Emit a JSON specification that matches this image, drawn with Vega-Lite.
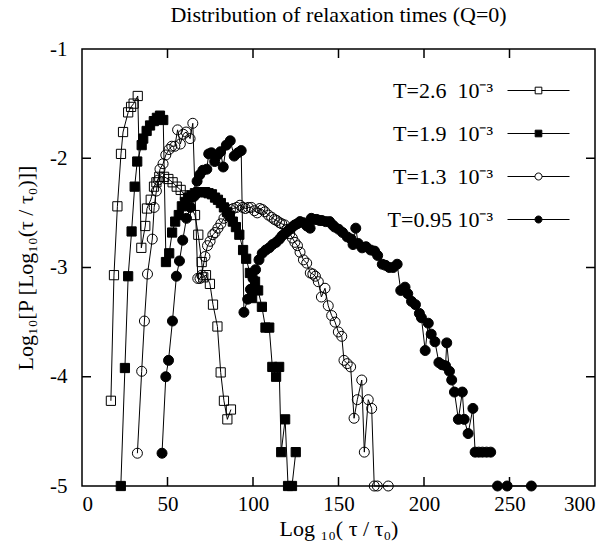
{
  "$schema": "https://vega.github.io/schema/vega-lite/v6.json",
  "width": 513,
  "height": 437,
  "autosize": {"type": "none"},
  "padding": {"left": 82, "top": 49, "right": 18, "bottom": 66},
  "background": "white",
  "config": {
    "font": "Liberation Serif",
    "view": {"stroke": "black", "strokeWidth": 1.5},
    "axis": {
      "domain": false, "grid": false, "ticks": false,
      "labelFont": "Liberation Serif", "titleFont": "Liberation Serif",
      "labelFontSize": 21, "titleFontSize": 22, "titleFontWeight": "normal",
      "labelColor": "black", "titleColor": "black"
    },
    "legend": {
      "orient": "none", "legendX": 425, "legendY": 10, "padding": 0,
      "labelAlign": "right",
      "labelFont": "Liberation Serif", "labelFontSize": 22, "labelColor": "black",
      "symbolStrokeWidth": 1, "symbolStrokeColor": "black", "rowPadding": 0
    }
  },
  "title": {
    "text": "Distribution of relaxation times (Q=0)",
    "font": "Liberation Serif", "fontSize": 22, "fontWeight": "normal",
    "color": "black", "anchor": "middle", "offset": 11
  },
  "data": {"values": [
    {"s":"a","x":16.9,"y":-4.22,"p":1},{"s":"a","x":18.7,"y":-3.07,"p":1},{"s":"a","x":20.7,"y":-2.44,"p":1},{"s":"a","x":22.8,"y":-1.96,"p":1},{"s":"a","x":24.0,"y":-1.76,"p":1},{"s":"a","x":27.0,"y":-1.58,"p":1},{"s":"a","x":28.7,"y":-1.53,"p":1},{"s":"a","x":30.2,"y":-1.50,"p":1},{"s":"a","x":32.6,"y":-1.43,"p":1},{"s":"a","x":34.7,"y":-2.82,"p":1},{"s":"a","x":37.0,"y":-2.62,"p":1},{"s":"a","x":38.0,"y":-2.46,"p":1},{"s":"a","x":40.2,"y":-2.38,"p":1},{"s":"a","x":42.1,"y":-2.26,"p":1},{"s":"a","x":43.5,"y":-2.22,"p":1},{"s":"a","x":45.2,"y":-2.17,"p":1},{"s":"a","x":48.0,"y":-2.17,"p":1},{"s":"a","x":50.5,"y":-2.19,"p":1},{"s":"a","x":53.0,"y":-2.22,"p":1},{"s":"a","x":55.4,"y":-2.26,"p":1},{"s":"a","x":57.7,"y":-2.29,"p":1},{"s":"a","x":60.2,"y":-2.34,"p":1},{"s":"a","x":62.7,"y":-2.42,"p":1},{"s":"a","x":66.1,"y":-2.52,"p":1},{"s":"a","x":68.0,"y":-2.70,"p":1},{"s":"a","x":70.0,"y":-2.95,"p":1},{"s":"a","x":70.9,"y":-3.09,"p":1},{"s":"a","x":72.5,"y":-3.07,"p":1},{"s":"a","x":74.8,"y":-3.15,"p":1},{"s":"a","x":76.6,"y":-3.34,"p":1},{"s":"a","x":79.2,"y":-3.54,"p":1},{"s":"a","x":81.1,"y":-3.96,"p":1},{"s":"a","x":83.0,"y":-4.22,"p":1},{"s":"a","x":85.0,"y":-4.39,"p":1},{"s":"a","x":87.1,"y":-4.30,"p":1},
    {"s":"b","x":22.7,"y":-5,"p":1},{"s":"b","x":25.1,"y":-3.92,"p":1},{"s":"b","x":27.0,"y":-3.08,"p":1},{"s":"b","x":29.0,"y":-2.67,"p":1},{"s":"b","x":30.8,"y":-2.26,"p":1},{"s":"b","x":32.3,"y":-2.03,"p":1},{"s":"b","x":34.9,"y":-1.88,"p":1},{"s":"b","x":35.8,"y":-1.82,"p":1},{"s":"b","x":37.8,"y":-1.75,"p":1},{"s":"b","x":39.8,"y":-1.70,"p":1},{"s":"b","x":42.0,"y":-1.66,"p":1},{"s":"b","x":43.8,"y":-1.63,"p":1},{"s":"b","x":45.6,"y":-1.61,"p":1},{"s":"b","x":47.5,"y":-1.65,"p":1},{"s":"b","x":49.1,"y":-2.95,"p":1},{"s":"b","x":51.0,"y":-2.87,"p":1},{"s":"b","x":52.7,"y":-2.68,"p":1},{"s":"b","x":54.5,"y":-2.58,"p":1},{"s":"b","x":56.6,"y":-2.52,"p":1},{"s":"b","x":58.4,"y":-2.44,"p":1},{"s":"b","x":60.2,"y":-2.40,"p":1},{"s":"b","x":62.0,"y":-2.36,"p":1},{"s":"b","x":64.0,"y":-2.34,"p":1},{"s":"b","x":66.0,"y":-2.32,"p":1},{"s":"b","x":68.0,"y":-2.31,"p":1},{"s":"b","x":70.0,"y":-2.31,"p":1},{"s":"b","x":72.0,"y":-2.31,"p":1},{"s":"b","x":74.0,"y":-2.32,"p":1},{"s":"b","x":76.0,"y":-2.33,"p":1},{"s":"b","x":77.8,"y":-2.36,"p":1},{"s":"b","x":79.5,"y":-2.38,"p":1},{"s":"b","x":81.2,"y":-2.41,"p":1},{"s":"b","x":83.0,"y":-2.45,"p":1},{"s":"b","x":84.8,"y":-2.49,"p":1},{"s":"b","x":86.5,"y":-2.53,"p":1},{"s":"b","x":88.2,"y":-2.58,"p":1},{"s":"b","x":90.0,"y":-2.63,"p":1},{"s":"b","x":92.0,"y":-2.70,"p":1},{"s":"b","x":94.2,"y":-2.84,"p":1},{"s":"b","x":96.0,"y":-2.92,"p":1},{"s":"b","x":98.2,"y":-3.05,"p":1},{"s":"b","x":99.5,"y":-3.28,"p":1},{"s":"b","x":101.2,"y":-3.13,"p":1},{"s":"b","x":103.0,"y":-3.21,"p":1},{"s":"b","x":105.2,"y":-3.36,"p":1},{"s":"b","x":107.3,"y":-3.55,"p":1},{"s":"b","x":109.5,"y":-3.55,"p":1},{"s":"b","x":111.3,"y":-3.91,"p":1},{"s":"b","x":113.5,"y":-4.00,"p":1},{"s":"b","x":115.3,"y":-3.91,"p":1},{"s":"b","x":116.5,"y":-4.69,"p":1},{"s":"b","x":118.8,"y":-4.39,"p":1},{"s":"b","x":120.5,"y":-5,"p":1},{"s":"b","x":122.8,"y":-5,"p":1},{"s":"b","x":125.0,"y":-4.69,"p":1},
    {"s":"c","x":32.4,"y":-4.70,"p":1},{"s":"c","x":34.9,"y":-3.95,"p":1},{"s":"c","x":36.5,"y":-3.49,"p":1},{"s":"c","x":38.3,"y":-3.06,"p":1},{"s":"c","x":41.1,"y":-2.74,"p":1},{"s":"c","x":42.2,"y":-2.45,"p":1},{"s":"c","x":43.5,"y":-2.30,"p":1},{"s":"c","x":44.5,"y":-2.20,"p":1},{"s":"c","x":45.6,"y":-2.10,"p":1},{"s":"c","x":47.4,"y":-2.05,"p":1},{"s":"c","x":49.0,"y":-1.97,"p":1},{"s":"c","x":50.9,"y":-1.92,"p":1},{"s":"c","x":52.5,"y":-1.89,"p":1},{"s":"c","x":54.3,"y":-1.89,"p":1},{"s":"c","x":55.9,"y":-1.74,"p":1},{"s":"c","x":57.5,"y":-1.87,"p":1},{"s":"c","x":59.2,"y":-1.78,"p":1},{"s":"c","x":60.9,"y":-1.76,"p":1},{"s":"c","x":63.2,"y":-1.82,"p":1},{"s":"c","x":64.8,"y":-1.68,"p":1},{"s":"c","x":67.7,"y":-3.10,"p":1},{"s":"c","x":69.0,"y":-3.10,"p":1},{"s":"c","x":70.0,"y":-3.07,"p":1},{"s":"c","x":71.9,"y":-2.90,"p":1},{"s":"c","x":73.4,"y":-2.80,"p":1},{"s":"c","x":74.9,"y":-2.76,"p":1},{"s":"c","x":76.5,"y":-2.70,"p":1},{"s":"c","x":77.8,"y":-2.68,"p":1},{"s":"c","x":79.5,"y":-2.64,"p":1},{"s":"c","x":81.2,"y":-2.60,"p":1},{"s":"c","x":83.0,"y":-2.55,"p":1},{"s":"c","x":85.0,"y":-2.51,"p":1},{"s":"c","x":86.8,"y":-2.47,"p":1},{"s":"c","x":88.5,"y":-2.46,"p":1},{"s":"c","x":90.5,"y":-2.45,"p":1},{"s":"c","x":92.4,"y":-2.43,"p":1},{"s":"c","x":94.0,"y":-2.45,"p":1},{"s":"c","x":95.5,"y":-2.46,"p":1},{"s":"c","x":97.2,"y":-2.45,"p":1},{"s":"c","x":99.0,"y":-2.45,"p":1},{"s":"c","x":100.8,"y":-2.48,"p":1},{"s":"c","x":102.5,"y":-2.50,"p":1},{"s":"c","x":104.0,"y":-2.46,"p":1},{"s":"c","x":105.5,"y":-2.47,"p":1},{"s":"c","x":107.0,"y":-2.49,"p":1},{"s":"c","x":109.0,"y":-2.52,"p":1},{"s":"c","x":110.9,"y":-2.54,"p":1},{"s":"c","x":112.5,"y":-2.56,"p":1},{"s":"c","x":113.9,"y":-2.57,"p":1},{"s":"c","x":115.5,"y":-2.59,"p":1},{"s":"c","x":116.8,"y":-2.60,"p":1},{"s":"c","x":118.5,"y":-2.61,"p":1},{"s":"c","x":120.0,"y":-2.65,"p":1},{"s":"c","x":121.5,"y":-2.69,"p":1},{"s":"c","x":123.0,"y":-2.73,"p":1},{"s":"c","x":124.5,"y":-2.77,"p":1},{"s":"c","x":126.0,"y":-2.80,"p":1},{"s":"c","x":127.5,"y":-2.86,"p":1},{"s":"c","x":129.5,"y":-2.93,"p":1},{"s":"c","x":131.4,"y":-2.96,"p":1},{"s":"c","x":133.5,"y":-3.05,"p":1},{"s":"c","x":135.0,"y":-3.06,"p":1},{"s":"c","x":136.5,"y":-3.08,"p":1},{"s":"c","x":138.2,"y":-3.13,"p":1},{"s":"c","x":140.0,"y":-3.27,"p":1},{"s":"c","x":142.1,"y":-3.19,"p":1},{"s":"c","x":144.0,"y":-3.35,"p":1},{"s":"c","x":146.0,"y":-3.44,"p":1},{"s":"c","x":148.0,"y":-3.50,"p":1},{"s":"c","x":149.9,"y":-3.59,"p":1},{"s":"c","x":151.9,"y":-3.63,"p":1},{"s":"c","x":153.2,"y":-3.85,"p":1},{"s":"c","x":155.1,"y":-3.88,"p":1},{"s":"c","x":157.1,"y":-3.91,"p":1},{"s":"c","x":159.1,"y":-4.38,"p":1},{"s":"c","x":161.0,"y":-4.21,"p":1},{"s":"c","x":163.6,"y":-4.03,"p":1},{"s":"c","x":165.1,"y":-4.69,"p":1},{"s":"c","x":167.4,"y":-4.21,"p":1},{"s":"c","x":169.4,"y":-4.29,"p":1},{"s":"c","x":170.9,"y":-5,"p":1},{"s":"c","x":172.7,"y":-5,"p":1},{"s":"c","x":179.1,"y":-5,"p":1},
    {"s":"d","x":46.8,"y":-4.70,"p":1},{"s":"d","x":49.0,"y":-4.00,"p":1},{"s":"d","x":50.6,"y":-3.85,"p":1},{"s":"d","x":52.9,"y":-3.49,"p":1},{"s":"d","x":55.2,"y":-3.08,"p":1},{"s":"d","x":57.0,"y":-2.94,"p":1},{"s":"d","x":58.9,"y":-2.75,"p":1},{"s":"d","x":61.1,"y":-2.55,"p":1},{"s":"d","x":63.4,"y":-2.45,"p":1},{"s":"d","x":65.5,"y":-2.35,"p":1},{"s":"d","x":67.3,"y":-2.21,"p":1},{"s":"d","x":68.9,"y":-2.15,"p":1},{"s":"d","x":70.7,"y":-2.11,"p":1},{"s":"d","x":73.0,"y":-2.10,"p":1},{"s":"d","x":74.1,"y":-1.96,"p":1},{"s":"d","x":75.7,"y":-1.95,"p":1},{"s":"d","x":77.6,"y":-2.03,"p":1},{"s":"d","x":79.3,"y":-1.97,"p":1},{"s":"d","x":81.0,"y":-1.94,"p":1},{"s":"d","x":82.6,"y":-2.08,"p":1},{"s":"d","x":84.4,"y":-1.88,"p":1},{"s":"d","x":86.7,"y":-1.84,"p":1},{"s":"d","x":89.0,"y":-1.98,"p":1},{"s":"d","x":91.2,"y":-1.95,"p":1},{"s":"d","x":93.1,"y":-1.93,"p":1},{"s":"d","x":94.7,"y":-3.41,"p":1},{"s":"d","x":96.9,"y":-3.29,"p":1},{"s":"d","x":98.5,"y":-3.20,"p":1},{"s":"d","x":100.0,"y":-3.10,"p":1},{"s":"d","x":101.5,"y":-3.02,"p":1},{"s":"d","x":103.5,"y":-2.93,"p":1},{"s":"d","x":105.4,"y":-2.87,"p":1},{"s":"d","x":107.5,"y":-2.84,"p":1},{"s":"d","x":109.5,"y":-2.82,"p":1},{"s":"d","x":111.5,"y":-2.79,"p":1},{"s":"d","x":113.5,"y":-2.77,"p":1},{"s":"d","x":115.5,"y":-2.74,"p":1},{"s":"d","x":117.0,"y":-2.71,"p":1},{"s":"d","x":118.6,"y":-2.69,"p":1},{"s":"d","x":120.0,"y":-2.67,"p":1},{"s":"d","x":121.4,"y":-2.65,"p":1},{"s":"d","x":123.0,"y":-2.63,"p":1},{"s":"d","x":124.5,"y":-2.61,"p":1},{"s":"d","x":125.9,"y":-2.60,"p":1},{"s":"d","x":127.5,"y":-2.58,"p":1},{"s":"d","x":129.5,"y":-2.59,"p":1},{"s":"d","x":131.5,"y":-2.62,"p":1},{"s":"d","x":133.4,"y":-2.64,"p":1},{"s":"d","x":134.1,"y":-2.55,"p":1},{"s":"d","x":135.8,"y":-2.56,"p":1},{"s":"d","x":137.3,"y":-2.56,"p":1},{"s":"d","x":139.0,"y":-2.57,"p":1},{"s":"d","x":140.3,"y":-2.57,"p":1},{"s":"d","x":142.5,"y":-2.58,"p":1},{"s":"d","x":144.8,"y":-2.58,"p":1},{"s":"d","x":146.5,"y":-2.61,"p":1},{"s":"d","x":147.8,"y":-2.63,"p":1},{"s":"d","x":150.1,"y":-2.65,"p":1},{"s":"d","x":152.4,"y":-2.68,"p":1},{"s":"d","x":155.1,"y":-2.72,"p":1},{"s":"d","x":157.4,"y":-2.74,"p":1},{"s":"d","x":158.5,"y":-2.79,"p":1},{"s":"d","x":160.1,"y":-2.64,"p":1},{"s":"d","x":161.5,"y":-2.78,"p":1},{"s":"d","x":163.8,"y":-2.82,"p":1},{"s":"d","x":166.1,"y":-2.81,"p":1},{"s":"d","x":168.8,"y":-2.84,"p":1},{"s":"d","x":171.1,"y":-2.85,"p":1},{"s":"d","x":172.9,"y":-2.89,"p":1},{"s":"d","x":175.6,"y":-2.97,"p":1},{"s":"d","x":177.5,"y":-2.98,"p":1},{"s":"d","x":179.7,"y":-3.00,"p":1},{"s":"d","x":182.0,"y":-3.00,"p":1},{"s":"d","x":184.3,"y":-2.97,"p":1},{"s":"d","x":186.4,"y":-3.21,"p":1},{"s":"d","x":188.9,"y":-3.18,"p":1},{"s":"d","x":190.5,"y":-3.24,"p":1},{"s":"d","x":192.7,"y":-3.31,"p":1},{"s":"d","x":195.0,"y":-3.34,"p":1},{"s":"d","x":197.3,"y":-3.42,"p":1},{"s":"d","x":198.5,"y":-3.46,"p":1},{"s":"d","x":200.7,"y":-3.76,"p":1},{"s":"d","x":202.5,"y":-3.51,"p":1},{"s":"d","x":204.2,"y":-3.61,"p":1},{"s":"d","x":206.4,"y":-3.68,"p":1},{"s":"d","x":208.7,"y":-3.87,"p":1},{"s":"d","x":210.5,"y":-3.89,"p":1},{"s":"d","x":212.6,"y":-3.90,"p":1},{"s":"d","x":213.3,"y":-3.69,"p":1},{"s":"d","x":214.9,"y":-3.95,"p":1},{"s":"d","x":216.2,"y":-4.03,"p":1},{"s":"d","x":217.8,"y":-4.14,"p":1},{"s":"d","x":220.1,"y":-4.39,"p":1},{"s":"d","x":222.4,"y":-4.14,"p":1},{"s":"d","x":223.5,"y":-4.39,"p":1},{"s":"d","x":225.8,"y":-4.52,"p":1},{"s":"d","x":228.6,"y":-4.29,"p":1},{"s":"d","x":229.9,"y":-4.69,"p":1},{"s":"d","x":232.0,"y":-4.69,"p":1},{"s":"d","x":234.2,"y":-4.69,"p":1},{"s":"d","x":236.6,"y":-4.69,"p":1},{"s":"d","x":239.0,"y":-4.69,"p":1},{"s":"d","x":243.0,"y":-5,"p":2},{"s":"d","x":248.6,"y":-5,"p":2},{"s":"d","x":262.8,"y":-5,"p":2}
  ]},
  "layer": [
    {
      "transform": [{"filter": "datum.s == 'a' || datum.s == 'b'"}],
      "mark": {"type": "point", "shape": "square", "size": 85, "stroke": "black", "strokeWidth": 1, "opacity": 1},
      "encoding": {
        "x": {"field": "x", "type": "quantitative", "scale": {"domain": [0, 300], "nice": false},
              "axis": {"orient": "bottom", "values": [0, 50, 100, 150, 200, 250, 300],
                       "title": "Log ₁₀( τ / τ₀)", "labelPadding": 7, "titlePadding": 4, "labelExpr": "'' + datum.value"}},
        "y": {"field": "y", "type": "quantitative", "scale": {"domain": [-5, -1], "nice": false},
              "axis": {"orient": "left", "values": [-5, -4, -3, -2, -1],
                       "title": "Log₁₀[P [Log₁₀(τ / τ₀)]]", "labelPadding": 15, "titlePadding": 12, "labelExpr": "'' + datum.value"}},
        "fill": {"field": "s", "type": "nominal",
                 "scale": {"domain": ["a", "b", "c", "d"], "range": ["transparent", "black", "transparent", "black"]},
                 "legend": {
                   "title": null,
                   "symbolSize": 3844,
                   "labelOffset": -77,
                   "symbolType": {"expr": "(datum.value == 'c' || datum.value == 'd') ? 'M-1,0H-0.113M0.113,0H1M-0.113,0A0.113,0.113,0,1,0,0.113,0A0.113,0.113,0,1,0,-0.113,0Z' : 'M-1,0H-0.107M0.107,0H1M-0.107,-0.107H0.107V0.107H-0.107Z'"},
                   "labelExpr": "datum.value == 'a' ? 'T=2.6\u00a0 10⁻³' : datum.value == 'b' ? 'T=1.9\u00a0 10⁻³' : datum.value == 'c' ? 'T=1.3\u00a0 10⁻³' : 'T=0.95 10⁻³'"
                 }}
      }
    },
    {
      "transform": [{"filter": "datum.s == 'c' || datum.s == 'd'"}],
      "mark": {"type": "point", "shape": "circle", "size": 100, "stroke": "black", "strokeWidth": 1, "opacity": 1},
      "encoding": {
        "x": {"field": "x", "type": "quantitative"},
        "y": {"field": "y", "type": "quantitative"},
        "fill": {"field": "s", "type": "nominal",
                 "scale": {"domain": ["a", "b", "c", "d"], "range": ["transparent", "black", "transparent", "black"]},
                 "legend": {
                   "title": null,
                   "symbolSize": 3844,
                   "labelOffset": -77,
                   "symbolType": {"expr": "(datum.value == 'c' || datum.value == 'd') ? 'M-1,0H-0.113M0.113,0H1M-0.113,0A0.113,0.113,0,1,0,0.113,0A0.113,0.113,0,1,0,-0.113,0Z' : 'M-1,0H-0.107M0.107,0H1M-0.107,-0.107H0.107V0.107H-0.107Z'"},
                   "labelExpr": "datum.value == 'a' ? 'T=2.6\u00a0 10⁻³' : datum.value == 'b' ? 'T=1.9\u00a0 10⁻³' : datum.value == 'c' ? 'T=1.3\u00a0 10⁻³' : 'T=0.95 10⁻³'"
                 }}
      }
    },
    {
      "mark": {"type": "line", "color": "black", "strokeWidth": 1},
      "encoding": {
        "x": {"field": "x", "type": "quantitative"},
        "y": {"field": "y", "type": "quantitative"},
        "detail": [{"field": "s"}, {"field": "p"}]
      }
    },
    {
      "data": {"values": [{"v": 50}, {"v": 100}, {"v": 150}, {"v": 200}, {"v": 250}]},
      "mark": {"type": "tick", "orient": "vertical", "size": 9, "thickness": 1.5, "color": "black", "opacity": 1, "yOffset": -4.5},
      "encoding": {
        "x": {"field": "v", "type": "quantitative"},
        "y": {"datum": -5, "type": "quantitative"}
      }
    },
    {
      "data": {"values": [{"v": 50}, {"v": 100}, {"v": 150}, {"v": 200}, {"v": 250}]},
      "mark": {"type": "tick", "orient": "vertical", "size": 9, "thickness": 1.5, "color": "black", "opacity": 1, "yOffset": 4.5},
      "encoding": {
        "x": {"field": "v", "type": "quantitative"},
        "y": {"datum": -1, "type": "quantitative"}
      }
    },
    {
      "data": {"values": [{"v": -4}, {"v": -3}, {"v": -2}]},
      "mark": {"type": "tick", "orient": "horizontal", "size": 9, "thickness": 1.5, "color": "black", "opacity": 1, "xOffset": 4.5},
      "encoding": {
        "y": {"field": "v", "type": "quantitative"},
        "x": {"datum": 0, "type": "quantitative"}
      }
    },
    {
      "data": {"values": [{"v": -4}, {"v": -3}, {"v": -2}]},
      "mark": {"type": "tick", "orient": "horizontal", "size": 9, "thickness": 1.5, "color": "black", "opacity": 1, "xOffset": -4.5},
      "encoding": {
        "y": {"field": "v", "type": "quantitative"},
        "x": {"datum": 300, "type": "quantitative"}
      }
    }
  ]
}
